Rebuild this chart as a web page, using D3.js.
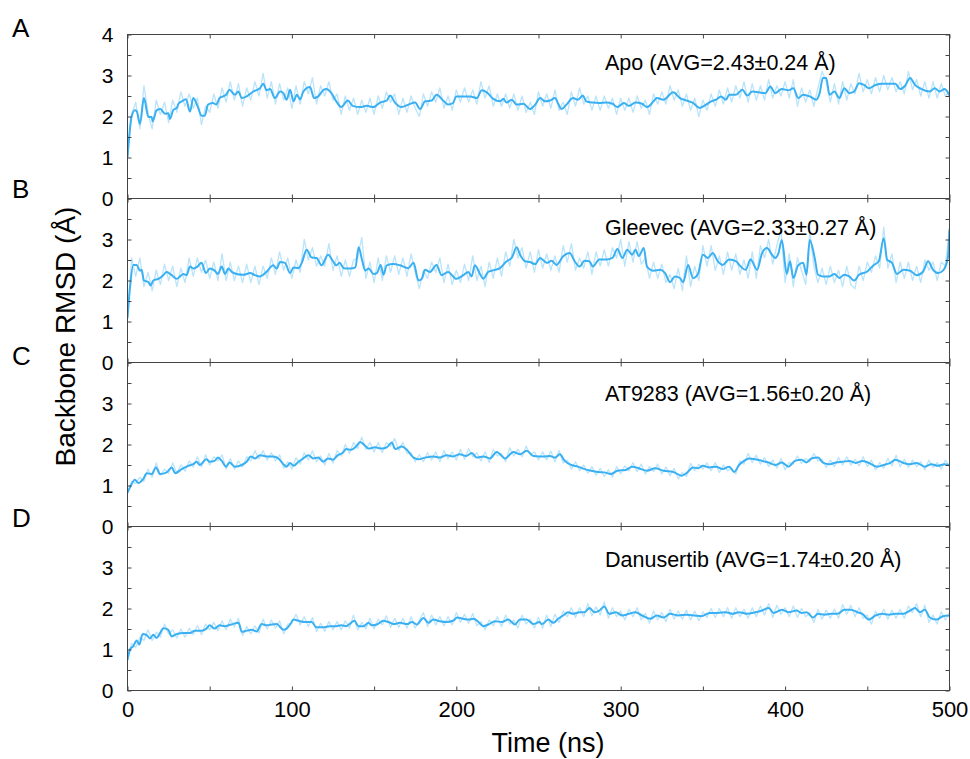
<!DOCTYPE html>
<html>
<head>
<meta charset="utf-8">
<script src="https://cdn.jsdelivr.net/npm/d3@7"></script>
<style>
  html, body { margin: 0; padding: 0; background: #fff; }
  svg { display: block; }
  text { font-family: "Liberation Sans", Arial, Helvetica, sans-serif; fill: #000; }
</style>
</head>
<body>
<svg id="chart" width="970" height="759"></svg>
<script>
// ---- Panel descriptions ----
const panelLetters = ["A", "B", "C", "D"];
const systemNames = ["Apo", "Gleevec", "AT9283", "Danusertib"];
const avgValues = [2.43, 2.33, 1.56, 1.74];
const sdValues = [0.24, 0.27, 0.20, 0.20];

// ---- Axes ----
const xTicks = [0, 50, 100, 150, 200, 250, 300, 350, 400, 450, 500];
const xTickLabels = [0, 100, 200, 300, 400, 500];
const yTicks = [0, 0.5, 1, 1.5, 2, 2.5, 3, 3.5, 4];

// ---- Raw backbone RMSD (Å), sampled every 2.5 ns from 0 to 500 ns ----
const rawStep = 2.5;
const apoRaw = [
  1.00,2.05,2.35,1.70,2.75,2.10,1.70,2.40,2.05,2.35,1.85,2.40,2.10,2.60,2.25,2.55,2.20,2.45,1.80,2.25,
  2.10,2.55,2.20,2.70,2.35,2.85,2.40,2.80,2.25,2.70,2.40,2.85,2.50,3.05,2.45,2.85,2.30,2.80,2.40,2.70,
  2.20,2.75,2.30,2.85,2.55,2.95,2.30,2.75,2.50,2.85,2.40,2.55,2.05,2.50,2.15,2.45,2.05,2.40,2.10,2.45,
  2.05,2.50,2.20,2.60,2.35,2.55,2.05,2.45,2.10,2.50,2.20,2.00,2.55,2.25,2.60,2.35,2.70,2.20,2.50,2.15,
  2.65,2.35,2.70,2.35,2.65,2.30,2.85,2.45,2.75,2.25,2.55,2.25,2.55,2.20,2.55,2.15,2.50,2.10,2.35,2.05,
  2.60,2.25,2.55,2.20,2.65,2.15,2.35,2.05,2.60,2.25,2.70,2.30,2.50,2.15,2.50,2.15,2.50,2.20,2.45,2.05,
  2.45,2.15,2.45,2.10,2.50,2.20,2.40,2.05,2.55,2.30,2.60,2.30,2.75,2.40,2.65,2.25,2.55,2.15,2.45,2.00,
  2.40,2.15,2.55,2.25,2.65,2.30,2.70,2.35,2.75,2.45,2.85,2.35,2.80,2.40,2.75,2.40,2.90,2.45,2.75,2.50,
  2.85,2.45,2.90,2.25,2.70,2.35,2.65,2.25,2.70,3.10,2.85,2.35,2.80,2.30,2.85,2.40,2.80,2.55,3.05,2.60,
  2.90,2.55,2.95,2.60,3.00,2.65,2.95,2.60,2.85,2.55,3.10,2.65,2.90,2.50,2.85,2.45,2.85,2.45,2.80,2.50,
  2.60
];
const gleevecRaw = [
  1.05,2.55,2.10,2.55,1.85,2.20,1.75,2.25,1.90,2.40,2.00,2.35,1.85,2.30,1.95,2.55,2.10,2.55,2.20,2.50,
  2.05,2.45,2.00,2.65,2.00,2.45,2.00,2.35,1.95,2.40,1.95,2.35,1.90,2.35,2.05,2.55,2.15,2.70,2.25,2.55,
  2.05,2.50,2.20,3.00,2.50,2.80,2.35,2.60,2.35,2.90,2.25,2.60,2.10,2.50,2.10,2.50,2.55,3.05,2.05,2.45,
  1.95,2.55,2.00,2.60,2.20,2.60,2.15,2.55,2.10,2.65,2.20,1.80,2.25,2.05,2.45,2.20,2.55,1.95,2.40,1.90,
  2.25,1.95,2.40,2.00,2.60,2.00,2.35,1.85,2.45,2.05,2.55,2.10,2.70,2.35,3.00,2.55,2.80,2.30,2.70,2.20,
  2.75,2.30,2.65,2.25,2.60,2.20,2.85,2.45,2.90,2.25,2.55,2.30,2.70,2.15,2.70,2.35,2.75,2.35,2.80,2.55,
  3.00,2.35,2.95,2.45,2.95,2.40,2.55,2.05,2.45,2.05,2.40,1.95,2.15,1.80,2.30,1.75,2.60,1.85,2.35,2.00,
  2.85,2.35,2.85,2.25,2.60,2.15,2.70,2.25,2.65,2.15,2.50,2.05,2.70,2.05,2.85,2.55,3.00,2.40,2.85,3.25,
  1.95,2.65,1.85,2.55,2.25,1.90,3.20,2.35,1.95,2.30,1.90,2.35,1.95,2.25,1.85,2.35,1.90,1.80,2.35,2.00,
  2.45,2.20,2.60,2.30,3.30,2.30,2.65,1.95,2.45,2.05,2.45,2.00,2.35,1.95,2.50,2.25,2.45,2.00,2.45,2.35,
  3.30
];
const at9283Raw = [
  0.80,1.10,1.05,1.20,1.10,1.40,1.20,1.55,1.25,1.40,1.30,1.55,1.30,1.50,1.35,1.60,1.45,1.70,1.45,1.75,
  1.50,1.70,1.60,1.75,1.40,1.65,1.40,1.60,1.45,1.70,1.60,1.85,1.65,1.85,1.62,1.80,1.60,1.75,1.42,1.58,
  1.40,1.68,1.52,1.80,1.62,1.85,1.58,1.72,1.50,1.78,1.55,1.85,1.72,2.00,1.78,2.05,1.90,2.18,1.88,2.05,
  1.82,2.05,1.80,2.05,1.95,2.15,1.85,2.05,1.78,1.80,1.58,1.75,1.58,1.80,1.62,1.82,1.58,1.85,1.65,1.82,
  1.62,1.88,1.64,1.90,1.70,1.80,1.60,1.82,1.56,1.88,1.72,1.78,1.58,1.92,1.72,1.88,1.70,1.96,1.75,1.82,
  1.62,1.82,1.62,1.84,1.58,1.86,1.55,1.62,1.40,1.58,1.36,1.50,1.30,1.46,1.25,1.42,1.22,1.38,1.20,1.46,
  1.28,1.48,1.36,1.56,1.34,1.52,1.28,1.46,1.34,1.52,1.28,1.45,1.24,1.42,1.16,1.32,1.22,1.54,1.36,1.52,
  1.40,1.55,1.36,1.56,1.32,1.50,1.36,1.42,1.28,1.60,1.52,1.78,1.56,1.74,1.52,1.68,1.46,1.62,1.42,1.66,
  1.38,1.56,1.52,1.72,1.54,1.66,1.58,1.78,1.60,1.64,1.44,1.62,1.46,1.68,1.50,1.70,1.50,1.64,1.48,1.70,
  1.46,1.62,1.38,1.56,1.42,1.66,1.48,1.74,1.46,1.64,1.44,1.62,1.46,1.58,1.38,1.62,1.44,1.56,1.40,1.62,
  1.46
];
const danusertibRaw = [
  0.72,1.15,1.05,1.30,1.22,1.48,1.22,1.42,1.30,1.62,1.38,1.48,1.28,1.50,1.30,1.52,1.36,1.58,1.36,1.62,
  1.48,1.66,1.46,1.70,1.48,1.74,1.55,1.76,1.34,1.56,1.38,1.58,1.40,1.74,1.50,1.72,1.52,1.70,1.38,1.62,
  1.64,1.86,1.60,1.80,1.56,1.78,1.44,1.64,1.44,1.68,1.48,1.68,1.48,1.70,1.52,1.84,1.48,1.66,1.50,1.76,
  1.50,1.74,1.60,1.82,1.54,1.76,1.54,1.76,1.52,1.80,1.52,1.72,1.90,1.56,1.84,1.60,1.80,1.58,1.80,1.60,
  1.90,1.66,1.86,1.64,1.88,1.58,1.68,1.48,1.72,1.58,1.80,1.56,1.84,1.62,1.72,1.52,1.84,1.62,1.74,1.52,
  1.78,1.52,1.84,1.56,1.86,1.66,1.94,1.80,2.02,1.78,2.02,1.80,2.12,1.82,2.04,1.84,2.16,1.76,2.02,1.80,
  1.94,1.72,1.98,1.80,2.02,1.72,1.88,1.64,1.94,1.72,1.90,1.68,1.98,1.74,1.94,1.74,1.96,1.72,1.94,1.70,
  1.92,1.78,2.00,1.78,2.00,1.80,2.02,1.76,2.02,1.80,1.98,1.76,2.02,1.80,2.06,1.84,2.12,1.78,2.08,1.86,
  2.02,1.80,2.06,1.78,2.00,1.80,1.90,1.66,1.98,1.74,1.96,1.76,1.98,1.76,2.10,1.86,2.08,1.80,2.02,1.76,
  1.84,1.62,1.94,1.76,1.98,1.74,1.96,1.76,1.98,1.76,2.06,1.90,2.12,1.80,2.08,1.66,1.84,1.62,1.92,1.72,
  1.90
];

// ---- Running-average curves: [time (ns), RMSD (Å)] ----
const apoSmooth = [
  [0,1.00],[2.5,2.00],[4.5,2.15],[5.6,2.13],[7.6,1.82],[10,2.45],[12.7,1.99],[14.7,1.99],[15.3,1.88],[17.7,2.15],
  [20,2.18],[22.8,2.07],[24.8,2.08],[25.8,1.94],[27.9,2.16],[30,2.21],[31,2.31],[33,2.37],[35.6,2.42],[38,2.12],
  [40,2.45],[43,2.21],[45,2.02],[47,2.02],[49,2.29],[52,2.33],[54,2.29],[56,2.45],[60,2.53],[62,2.65],
  [65.4,2.53],[67.4,2.61],[69.5,2.45],[72.5,2.49],[76.5,2.61],[80.6,2.69],[82.6,2.80],[84.6,2.64],[86.7,2.67],[89.7,2.45],
  [92.8,2.61],[94.8,2.57],[96.8,2.41],[98.9,2.65],[101,2.37],[103,2.53],[105,2.42],[107,2.61],[111,2.72],[113.5,2.45],
  [116,2.49],[119,2.64],[121,2.67],[124,2.57],[127,2.37],[130,2.23],[134,2.39],[137,2.26],[141.5,2.23],[145.5,2.26],
  [149.5,2.23],[153.6,2.34],[157.7,2.39],[159.7,2.51],[162.7,2.34],[166.8,2.23],[170.8,2.29],[175,2.34],[178,2.18],[181,2.37],
  [185,2.39],[188,2.53],[192,2.39],[195,2.29],[198,2.33],[200,2.49],[204,2.49],[208.5,2.49],[212.5,2.45],[215.5,2.64],
  [218.5,2.59],[222.5,2.43],[226.6,2.37],[228.6,2.43],[230.6,2.34],[233.7,2.41],[236.7,2.29],[240.8,2.31],[244.8,2.18],[248,2.29],
  [251,2.45],[254,2.37],[257,2.39],[260,2.45],[262,2.31],[264,2.18],[267,2.29],[271,2.45],[274,2.41],[277,2.51],
  [279,2.37],[283,2.34],[287,2.33],[291,2.34],[295,2.31],[298,2.23],[302,2.33],[305,2.26],[309,2.34],[313,2.31],
  [316,2.23],[320,2.37],[322,2.45],[326,2.41],[332,2.59],[336,2.45],[340,2.39],[344,2.33],[348,2.21],[352,2.29],
  [355,2.37],[358,2.41],[361,2.49],[364,2.41],[366,2.53],[370,2.53],[374,2.65],[377,2.51],[380,2.61],[384,2.59],
  [388,2.57],[391,2.73],[394,2.57],[398,2.67],[402,2.64],[405,2.69],[408,2.45],[411,2.53],[415,2.49],[419,2.41],
  [421,2.57],[423,2.94],[425,2.94],[427,2.53],[430,2.61],[433,2.45],[436,2.69],[439,2.57],[442,2.61],[445,2.81],
  [448,2.77],[451,2.69],[455,2.77],[459,2.80],[463,2.80],[467,2.80],[470,2.67],[473,2.75],[476,2.94],[479,2.77],
  [483,2.67],[488,2.61],[491,2.69],[494,2.61],[497,2.67],[500,2.51]
];
const gleevecSmooth = [
  [0,1.09],[1.5,1.82],[3.5,2.38],[5.6,2.38],[7.6,2.24],[8.6,2.26],[10,2.00],[12.7,1.96],[14.1,1.88],[15.7,2.00],
  [18.8,2.04],[21.8,2.13],[23.8,2.21],[26.9,2.13],[30,2.04],[32,2.10],[34,2.16],[36,2.13],[38,2.34],[40,2.29],
  [42.5,2.34],[45,2.43],[47.7,2.18],[50,2.29],[53,2.24],[55,2.16],[57.3,2.34],[59.3,2.16],[61.3,2.29],[63.4,2.21],
  [66.4,2.16],[70.5,2.14],[74.5,2.18],[77.6,2.13],[80.6,2.10],[84.6,2.21],[88.7,2.37],[90.7,2.29],[92.8,2.45],[95.8,2.43],
  [98.9,2.18],[101,2.32],[104,2.30],[106,2.43],[109,2.75],[112,2.56],[115,2.55],[118,2.37],[122,2.63],[125,2.47],
  [127,2.37],[129,2.43],[131.5,2.30],[135.5,2.29],[138.6,2.32],[140.6,2.81],[142.6,2.51],[144.6,2.24],[146.6,2.29],[149.7,2.16],
  [151.7,2.18],[154,2.38],[155.7,2.14],[157.7,2.37],[161.8,2.40],[165.8,2.37],[170.8,2.30],[174,2.43],[177,2.00],[179,2.04],
  [181,2.26],[184,2.21],[188,2.38],[191,2.13],[195,2.21],[200,2.04],[204.3,2.13],[207.3,2.21],[209.3,2.10],[211.3,2.37],
  [214.4,2.16],[216.4,2.04],[219.4,2.21],[223.5,2.26],[226.6,2.30],[230.6,2.47],[233.7,2.55],[236.7,2.81],[238.8,2.63],[241.8,2.47],
  [244.8,2.45],[248,2.40],[251,2.55],[255,2.43],[258,2.48],[261,2.38],[265,2.59],[269,2.67],[272,2.47],[275,2.34],
  [278,2.48],[281,2.47],[283,2.34],[287,2.51],[291,2.51],[295,2.55],[298,2.77],[301,2.55],[304,2.75],[307,2.63],
  [309,2.75],[311,2.59],[314,2.79],[316,2.34],[320,2.24],[324,2.26],[327,2.18],[330,1.96],[333,2.10],[336,2.06],
  [338,1.96],[341,2.38],[344,2.06],[347,2.16],[350,2.63],[353,2.55],[356,2.67],[359,2.47],[362,2.38],[366,2.51],
  [370,2.47],[373,2.34],[376,2.26],[379,2.51],[383,2.26],[386,2.67],[389,2.79],[392,2.63],[394,2.55],[396,2.67],
  [398,2.99],[401,2.16],[403,2.47],[405,2.06],[408,2.37],[411,2.43],[413,2.14],[415,2.99],[418,2.55],[420,2.14],
  [423,2.10],[427,2.10],[430,2.16],[433,2.06],[436,2.14],[439,2.10],[442,2.00],[445,2.14],[450,2.22],[454,2.38],
  [457,2.47],[460,3.03],[462,2.51],[465,2.43],[468,2.16],[472,2.26],[476,2.24],[480,2.13],[484,2.22],[487,2.47],
  [490,2.26],[493,2.18],[496,2.24],[499,2.55],[500,3.24]
];
const at9283Smooth = [
  [0,0.83],[1.5,0.95],[4.5,1.14],[6.6,1.06],[9.6,1.16],[11.7,1.30],[14.7,1.28],[17.3,1.44],[19.8,1.28],[23.8,1.32],
  [26.9,1.44],[29,1.30],[33,1.40],[37,1.48],[40,1.52],[42.1,1.58],[44,1.50],[48,1.64],[50,1.58],[53,1.60],
  [55,1.68],[57.3,1.60],[60,1.46],[62,1.56],[65.4,1.46],[69.5,1.50],[72.5,1.58],[75,1.71],[77.6,1.66],[80.6,1.74],
  [84.6,1.71],[88.7,1.71],[91.8,1.66],[94.8,1.52],[96.8,1.46],[98.9,1.55],[101,1.48],[104,1.58],[107,1.66],[110,1.74],
  [113,1.66],[116,1.68],[119,1.58],[122,1.66],[125,1.63],[128,1.74],[131,1.80],[133,1.89],[136,1.87],[139,1.95],
  [141.5,2.06],[144.5,1.97],[146.6,1.90],[150.6,1.93],[154.6,1.90],[157.7,1.93],[160.8,2.05],[162.8,1.89],[166.8,1.95],[169.9,1.87],
  [174,1.68],[177,1.64],[181,1.68],[186,1.71],[190,1.68],[194,1.74],[198,1.71],[202,1.76],[206,1.72],[209.4,1.79],
  [212.5,1.68],[216.5,1.71],[220.5,1.66],[224.6,1.82],[229.7,1.66],[234.7,1.82],[238.8,1.76],[242.8,1.85],[246.9,1.72],[250.5,1.71],
  [253,1.71],[257,1.72],[260,1.68],[263,1.76],[266,1.60],[270,1.50],[274,1.46],[278,1.40],[282,1.36],[286,1.33],
  [290,1.32],[294,1.28],[298,1.36],[303,1.38],[307,1.46],[311,1.42],[316,1.36],[321,1.42],[326,1.36],[332,1.33],
  [337,1.24],[340,1.30],[344,1.44],[347,1.42],[350,1.48],[354,1.44],[358,1.46],[362,1.40],[366,1.46],[369,1.33],
  [372,1.50],[375,1.60],[378,1.66],[382,1.64],[386,1.60],[390,1.56],[394,1.50],[398,1.56],[402,1.46],[406,1.60],
  [410,1.63],[413,1.56],[416,1.66],[420,1.68],[423,1.56],[427,1.52],[431,1.56],[435,1.58],[439,1.60],[443,1.55],
  [447,1.60],[451,1.55],[456,1.46],[460,1.50],[464,1.55],[467,1.63],[472,1.55],[476,1.52],[480,1.55],[485,1.46],
  [489,1.52],[493,1.48],[497,1.52],[500,1.50]
];
const danusertibSmooth = [
  [0,0.75],[1.5,1.00],[3.5,1.08],[5.6,1.22],[7.2,1.12],[9.2,1.38],[11.7,1.35],[13.7,1.27],[15.7,1.36],[17.7,1.28],
  [19.8,1.40],[21.8,1.52],[24.8,1.48],[26.9,1.32],[30,1.38],[34,1.40],[38,1.40],[41,1.46],[45,1.46],[48,1.51],
  [50,1.59],[53,1.51],[56,1.59],[59,1.57],[63,1.61],[67.5,1.65],[69.5,1.43],[72.5,1.46],[75.6,1.48],[78.6,1.44],
  [81.6,1.62],[84.6,1.59],[87.7,1.61],[90.7,1.62],[94.8,1.48],[96.8,1.51],[98.9,1.61],[101,1.73],[104,1.70],[108,1.67],
  [112,1.67],[115,1.54],[119,1.54],[123,1.57],[127,1.57],[130,1.59],[133,1.57],[135,1.62],[138,1.70],[140.5,1.57],
  [143.6,1.57],[146.6,1.65],[148.6,1.59],[151.7,1.61],[155.7,1.70],[158.7,1.67],[161.8,1.62],[165.8,1.65],[170,1.62],[173,1.67],
  [176,1.61],[180,1.77],[183,1.65],[186,1.73],[190,1.69],[194,1.67],[198,1.70],[200.6,1.78],[204,1.75],[207.4,1.73],
  [210.5,1.75],[213.5,1.67],[216.5,1.57],[219.5,1.61],[223.6,1.69],[227.6,1.67],[231.6,1.73],[235.7,1.61],[238.7,1.73],[242.8,1.73],
  [246.9,1.62],[250.5,1.67],[252,1.62],[256,1.73],[259,1.65],[262,1.75],[265,1.83],[268,1.91],[271,1.87],[275,1.91],
  [278,1.91],[281,2.01],[284,1.91],[287,1.95],[290,2.05],[293,1.87],[297,1.91],[301,1.83],[305,1.87],[309,1.91],
  [313,1.83],[318,1.75],[322,1.83],[326,1.78],[330,1.87],[335,1.83],[340,1.85],[345,1.83],[349,1.81],[354,1.89],
  [359,1.89],[364,1.91],[368,1.87],[372,1.91],[377,1.87],[382,1.91],[386,1.95],[390,2.01],[393,1.89],[398,1.97],
  [402,1.91],[407,1.95],[410,1.89],[413,1.91],[417,1.78],[420,1.87],[424,1.85],[428,1.87],[432,1.87],[436,1.97],
  [440,1.97],[444,1.91],[447,1.87],[451,1.73],[455,1.83],[459,1.87],[463,1.85],[467,1.87],[472,1.87],[476,1.95],
  [479,2.01],[482,1.91],[485,1.97],[488,1.78],[492,1.73],[496,1.81],[500,1.83]
];

const rawSeries = [apoRaw, gleevecRaw, at9283Raw, danusertibRaw];
const smoothSeries = [apoSmooth, gleevecSmooth, at9283Smooth, danusertibSmooth];

// ---- Layout ----
const W = 970, H = 759;
const plotLeft = 127.5, plotRight = 949.5;
const plotTop = 34.5, panelH = 164;
const axisColor = "#444";
const rawColor = "#a9ddf9";
const smoothColor = "#3ab0f2";
const labelOffsets = [35.5, 36.5, 38.5, 40];   // caption baselines below each panel top
const letterBaselines = [37, 198, 365, 527];

const svg = d3.select("#chart");
svg.append("rect").attr("width", W).attr("height", H).attr("fill", "#fff");

const x = d3.scaleLinear().domain([0, 500]).range([plotLeft, plotRight]);

systemNames.forEach((name, i) => {
  const top = plotTop + i * panelH;
  const bottom = top + panelH;
  const y = d3.scaleLinear().domain([0, 4]).range([bottom, top]);
  const g = svg.append("g").attr("class", "panel");

  const clipId = "clip" + i;
  g.append("clipPath").attr("id", clipId)
    .append("rect").attr("x", plotLeft).attr("y", top)
    .attr("width", plotRight - plotLeft).attr("height", panelH);

  const data = g.append("g").attr("clip-path", `url(#${clipId})`);

  // raw trajectory
  const rawLine = d3.line()
    .x((d, k) => x(k * rawStep))
    .y(d => y(d));
  data.append("path")
    .datum(rawSeries[i])
    .attr("d", rawLine)
    .attr("fill", "none")
    .attr("stroke", rawColor)
    .attr("stroke-width", 1.3)
    .attr("stroke-opacity", 0.8)
    .attr("stroke-linejoin", "round");

  // running average
  const smoothLine = d3.line()
    .curve(d3.curveMonotoneX)
    .x(d => x(d[0]))
    .y(d => y(d[1]));
  data.append("path")
    .datum(smoothSeries[i])
    .attr("d", smoothLine)
    .attr("fill", "none")
    .attr("stroke", smoothColor)
    .attr("stroke-width", 2)
    .attr("stroke-linejoin", "round");

  // left axis with inward ticks
  const left = d3.axisLeft(y)
    .tickValues(yTicks)
    .tickSizeInner(-4).tickSizeOuter(0).tickPadding(14)
    .tickFormat(d => (Number.isInteger(d) && (i === 0 || d < 4)) ? d : "");
  const gl = g.append("g").attr("transform", `translate(${plotLeft},0)`).call(left);
  gl.select(".domain").remove();
  gl.selectAll("line").attr("stroke", axisColor);
  gl.selectAll("text").attr("font-size", 21).attr("font-family", "Liberation Sans, Arial, sans-serif").attr("fill", "#000");

  // right axis ticks
  const right = d3.axisRight(y).tickValues(yTicks).tickSizeInner(-4).tickSizeOuter(0).tickFormat("");
  const gr = g.append("g").attr("transform", `translate(${plotRight},0)`).call(right);
  gr.select(".domain").remove();
  gr.selectAll("line").attr("stroke", axisColor);

  // top ticks
  const topAxis = d3.axisTop(x).tickValues(xTicks).tickSizeInner(-4).tickSizeOuter(0).tickFormat("");
  const gt = g.append("g").attr("transform", `translate(0,${top})`).call(topAxis);
  gt.select(".domain").remove();
  gt.selectAll("line").attr("stroke", axisColor);

  // bottom ticks, labelled on the last panel only
  const isLast = i === systemNames.length - 1;
  const bottomAxis = d3.axisBottom(x).tickValues(xTicks)
    .tickSizeInner(-4).tickSizeOuter(0).tickPadding(11)
    .tickFormat(d => (isLast && xTickLabels.includes(d)) ? d : "");
  const gb = g.append("g").attr("transform", `translate(0,${bottom})`).call(bottomAxis);
  gb.select(".domain").remove();
  gb.selectAll("line").attr("stroke", axisColor);
  gb.selectAll("text").attr("font-size", 22).attr("font-family", "Liberation Sans, Arial, sans-serif").attr("fill", "#000");

  // frame
  g.append("rect")
    .attr("x", plotLeft).attr("y", top)
    .attr("width", plotRight - plotLeft).attr("height", panelH)
    .attr("fill", "none").attr("stroke", axisColor).attr("stroke-width", 1);

  // caption
  g.append("text")
    .attr("x", 605).attr("y", top + labelOffsets[i])
    .attr("font-size", 21.5)
    .text(`${name} (AVG=${avgValues[i].toFixed(2)}±${sdValues[i].toFixed(2)} Å)`);

  // panel letter
  svg.append("text")
    .attr("x", 12).attr("y", letterBaselines[i])
    .attr("font-size", 26)
    .text(panelLetters[i]);
});

// axis titles
svg.append("text")
  .attr("transform", "translate(75,336.5) rotate(-90)")
  .attr("text-anchor", "middle")
  .attr("font-size", 28)
  .text("Backbone RMSD (Å)");

svg.append("text")
  .attr("x", 548).attr("y", 752)
  .attr("text-anchor", "middle")
  .attr("font-size", 27)
  .text("Time (ns)");
</script>
</body>
</html>
